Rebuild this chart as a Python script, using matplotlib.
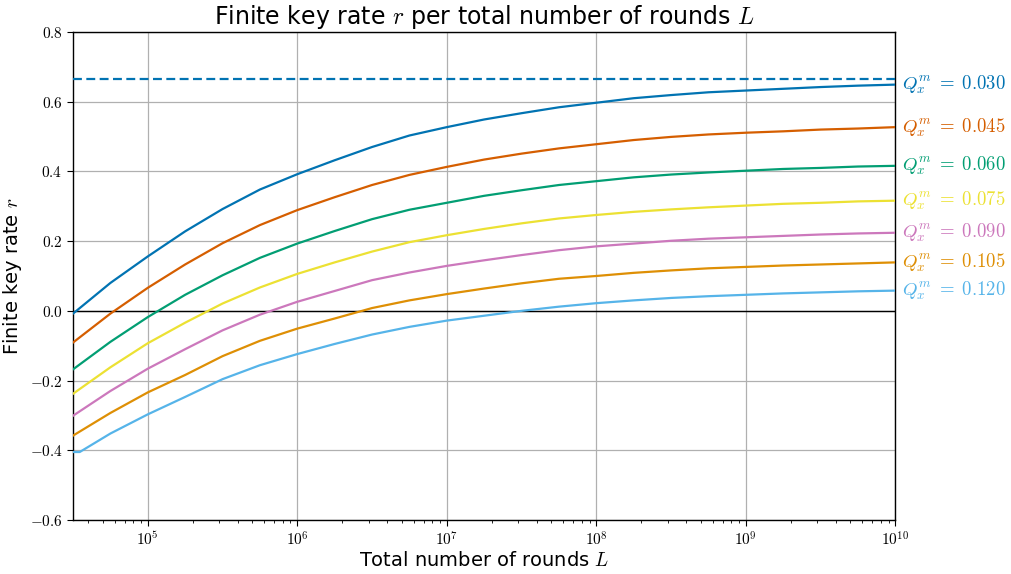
import numpy as np
import matplotlib
matplotlib.use("Agg")
import matplotlib.pyplot as plt
from matplotlib.ticker import FuncFormatter, LogLocator, NullFormatter

plt.rcParams['font.family'] = ['DejaVu Sans']
plt.rcParams['mathtext.fontset'] = 'cm'

# log10 of total number of rounds L
logL = [4.5, 4.75, 5.0, 5.25, 5.5, 5.75, 6.0, 6.25, 6.5, 6.75, 7.0, 7.25,
        7.5, 7.75, 8.0, 8.25, 8.5, 8.75, 9.0, 9.25, 9.5, 9.75, 10.0]

r_030 = [-0.008, 0.080, 0.156, 0.228, 0.292, 0.348, 0.392, 0.432, 0.470, 0.503, 0.527, 0.549,
         0.567, 0.584, 0.597, 0.610, 0.619, 0.627, 0.632, 0.637, 0.642, 0.646, 0.649]
r_045 = [-0.091, -0.008, 0.066, 0.133, 0.194, 0.246, 0.289, 0.326, 0.361, 0.390, 0.413, 0.434,
         0.451, 0.466, 0.478, 0.490, 0.499, 0.506, 0.511, 0.515, 0.520, 0.523, 0.527]
r_060 = [-0.168, -0.089, -0.018, 0.046, 0.102, 0.152, 0.193, 0.229, 0.263, 0.290, 0.310, 0.330,
         0.346, 0.361, 0.372, 0.383, 0.391, 0.397, 0.402, 0.407, 0.410, 0.414, 0.416]
r_075 = [-0.238, -0.162, -0.093, -0.034, 0.021, 0.067, 0.106, 0.139, 0.170, 0.197, 0.217, 0.235,
         0.251, 0.265, 0.275, 0.284, 0.291, 0.297, 0.302, 0.307, 0.310, 0.314, 0.316]
r_090 = [-0.301, -0.230, -0.166, -0.110, -0.056, -0.011, 0.026, 0.057, 0.088, 0.110, 0.129, 0.145,
         0.160, 0.174, 0.185, 0.193, 0.201, 0.207, 0.211, 0.215, 0.219, 0.222, 0.224]
r_105 = [-0.358, -0.293, -0.234, -0.184, -0.130, -0.086, -0.051, -0.022, 0.008, 0.030, 0.048, 0.064,
         0.079, 0.092, 0.100, 0.109, 0.116, 0.122, 0.126, 0.130, 0.133, 0.136, 0.139]

logL_120 = [4.5, 4.545, 4.75, 5.0, 5.25, 5.5, 5.75, 6.0, 6.25, 6.5, 6.75, 7.0, 7.25,
            7.5, 7.75, 8.0, 8.25, 8.5, 8.75, 9.0, 9.25, 9.5, 9.75, 10.0]
r_120 = [-0.405, -0.405, -0.352, -0.297, -0.247, -0.196, -0.156, -0.124, -0.095, -0.068, -0.046,
         -0.028, -0.014, 0.000, 0.012, 0.022, 0.030, 0.037, 0.042, 0.046, 0.050, 0.053, 0.056, 0.058]

asymptote_030 = 0.664

qber = ["0.030", "0.045", "0.060", "0.075", "0.090", "0.105", "0.120"]
colors = ["#0173B2", "#D55E00", "#029E73", "#ECE133", "#CC78BC", "#DE8F05", "#56B4E9"]

series = [(logL, r_030), (logL, r_045), (logL, r_060), (logL, r_075),
          (logL, r_090), (logL, r_105), (logL_120, r_120)]

fig = plt.figure(figsize=(10.11, 5.74), dpi=100)
ax = fig.add_axes([0.0722, 0.0941, 0.8135, 0.8502])

ax.axhline(0, color='black', lw=1.0, zorder=2)
ax.axhline(asymptote_030, color=colors[0], lw=1.6, dashes=(4, 2), zorder=3)

for (xs, ys), c, q in zip(series, colors, qber):
    L = 10.0 ** np.array(xs)
    ax.plot(L, ys, color=c, lw=1.6, zorder=3, solid_joinstyle='round')
    ax.annotate(r"$Q_x^m \;=\; %s$" % q, xy=(1.0, ys[-1]), xycoords=('axes fraction', 'data'),
                xytext=(5, 0), textcoords='offset points', color=c, fontsize=13.5,
                va='center', ha='left', annotation_clip=False)

ax.set_xscale('log')
ax.set_xlim(10 ** 4.5, 1e10)
ax.set_ylim(-0.6, 0.8)
ax.set_yticks(np.arange(-0.6, 0.81, 0.2))
ax.yaxis.set_major_formatter(FuncFormatter(lambda v, p: r"$%.1f$" % (0.0 if abs(v) < 1e-9 else v)))
ax.xaxis.set_major_locator(LogLocator(base=10, numticks=20))
ax.xaxis.set_minor_locator(LogLocator(base=10, subs=np.arange(2, 10), numticks=20))
ax.xaxis.set_minor_formatter(NullFormatter())
ax.xaxis.set_major_formatter(FuncFormatter(lambda v, p: r"$10^{%d}$" % round(np.log10(v))))
ax.tick_params(axis='both', which='major', labelsize=11, length=4)
ax.tick_params(axis='x', which='minor', length=2.5)

ax.grid(True, which='major', color='#b0b0b0', lw=0.9, zorder=0)
ax.set_axisbelow(True)
for s in ax.spines.values():
    s.set_linewidth(1.0)

ax.set_title(r"Finite key rate $r$ per total number of rounds $L$", fontsize=17)
ax.set_xlabel(r"Total number of rounds $L$", fontsize=14, labelpad=2)
ax.set_ylabel(r"Finite key rate $r$", fontsize=14, labelpad=4)

fig.savefig("out.png", dpi=100)
